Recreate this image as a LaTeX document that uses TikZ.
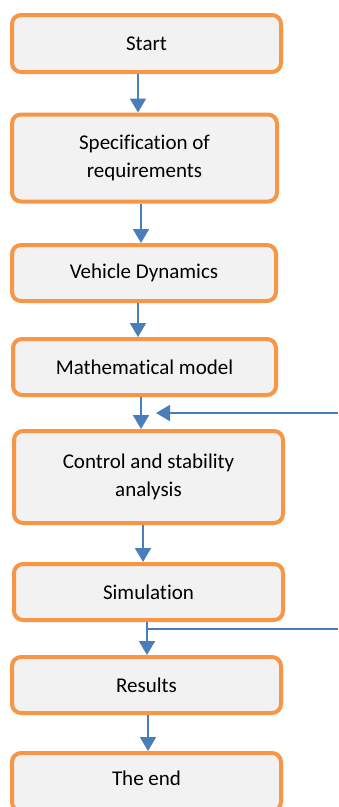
\documentclass[tikz,border=0pt]{standalone}
\usepackage{fontspec}
\setmainfont{Carlito}[RawFeature=-liga]
\usetikzlibrary{arrows.meta}
\definecolor{boxorange}{HTML}{F79646}
\definecolor{boxfill}{HTML}{F2F2F2}
\definecolor{arrblue}{HTML}{4A7EBB}
\tikzset{
  stepbox/.style={draw=boxorange, fill=boxfill, line width=4pt, rounded corners=9pt,
    align=center, inner sep=0pt, font=\fontsize{21}{28.5}\selectfont, text=black},
  arr/.style={draw=arrblue, line width=1.8pt, -{Triangle[width=16pt,length=14pt]}},
  ln/.style={draw=arrblue, line width=1.8pt}
}
\begin{document}
\begin{tikzpicture}[x=1pt,y=-1pt]
\clip (0,0) rectangle (338,807);
\useasboundingbox (0,0) rectangle (338,807);
\fill[white] (0,0) rectangle (338,807);
\node[stepbox, minimum width=269pt, minimum height=57pt] (start) at (146.5,43.5) {Start};
\node[stepbox, minimum width=265pt, minimum height=87pt] (spec) at (144.5,158) {Specification of\\requirements};
\node[stepbox, minimum width=264pt, minimum height=56pt] (veh) at (144,273) {Vehicle Dynamics};
\node[stepbox, minimum width=263pt, minimum height=56pt] (math) at (144.5,367) {Mathematical model};
\node[stepbox, minimum width=269pt, minimum height=92pt] (ctrl) at (148.5,477) {Control and stability\\analysis};
\node[stepbox, minimum width=269pt, minimum height=56pt] (sim) at (148.5,592) {Simulation};
\node[stepbox, minimum width=269pt, minimum height=56pt] (res) at (146.5,685) {Results};
\node[stepbox, minimum width=269pt, minimum height=58pt] (end) at (146.5,782) {};
\node[font=\fontsize{21}{28.5}\selectfont] (endtext) at (146.5,778) {The end};
\coordinate (fbin) at (338,413);
\coordinate (fbout) at (338,629);
\coordinate (fbtip) at (156,413);
\coordinate (br) at (147,629);
\draw[arr] (start.south -| 138,0) -- (spec.north -| 138,0);
\draw[arr] (spec.south -| 141,0) -- (veh.north -| 141,0);
\draw[arr] (veh.south -| 138,0) -- (math.north -| 138,0);
\draw[arr] (math.south -| 141,0) -- (ctrl.north -| 141,0);
\draw[arr] (ctrl.south -| 143,0) -- (sim.north -| 143,0);
\draw[arr] (sim.south -| 147,0) -- (res.north -| 147,0);
\draw[arr] (res.south -| 148,0) -- (end.north -| 148,0);
\draw[arr] (fbin) -- (fbtip);
\draw[ln] (br) -- (fbout);
\end{tikzpicture}
\end{document}
